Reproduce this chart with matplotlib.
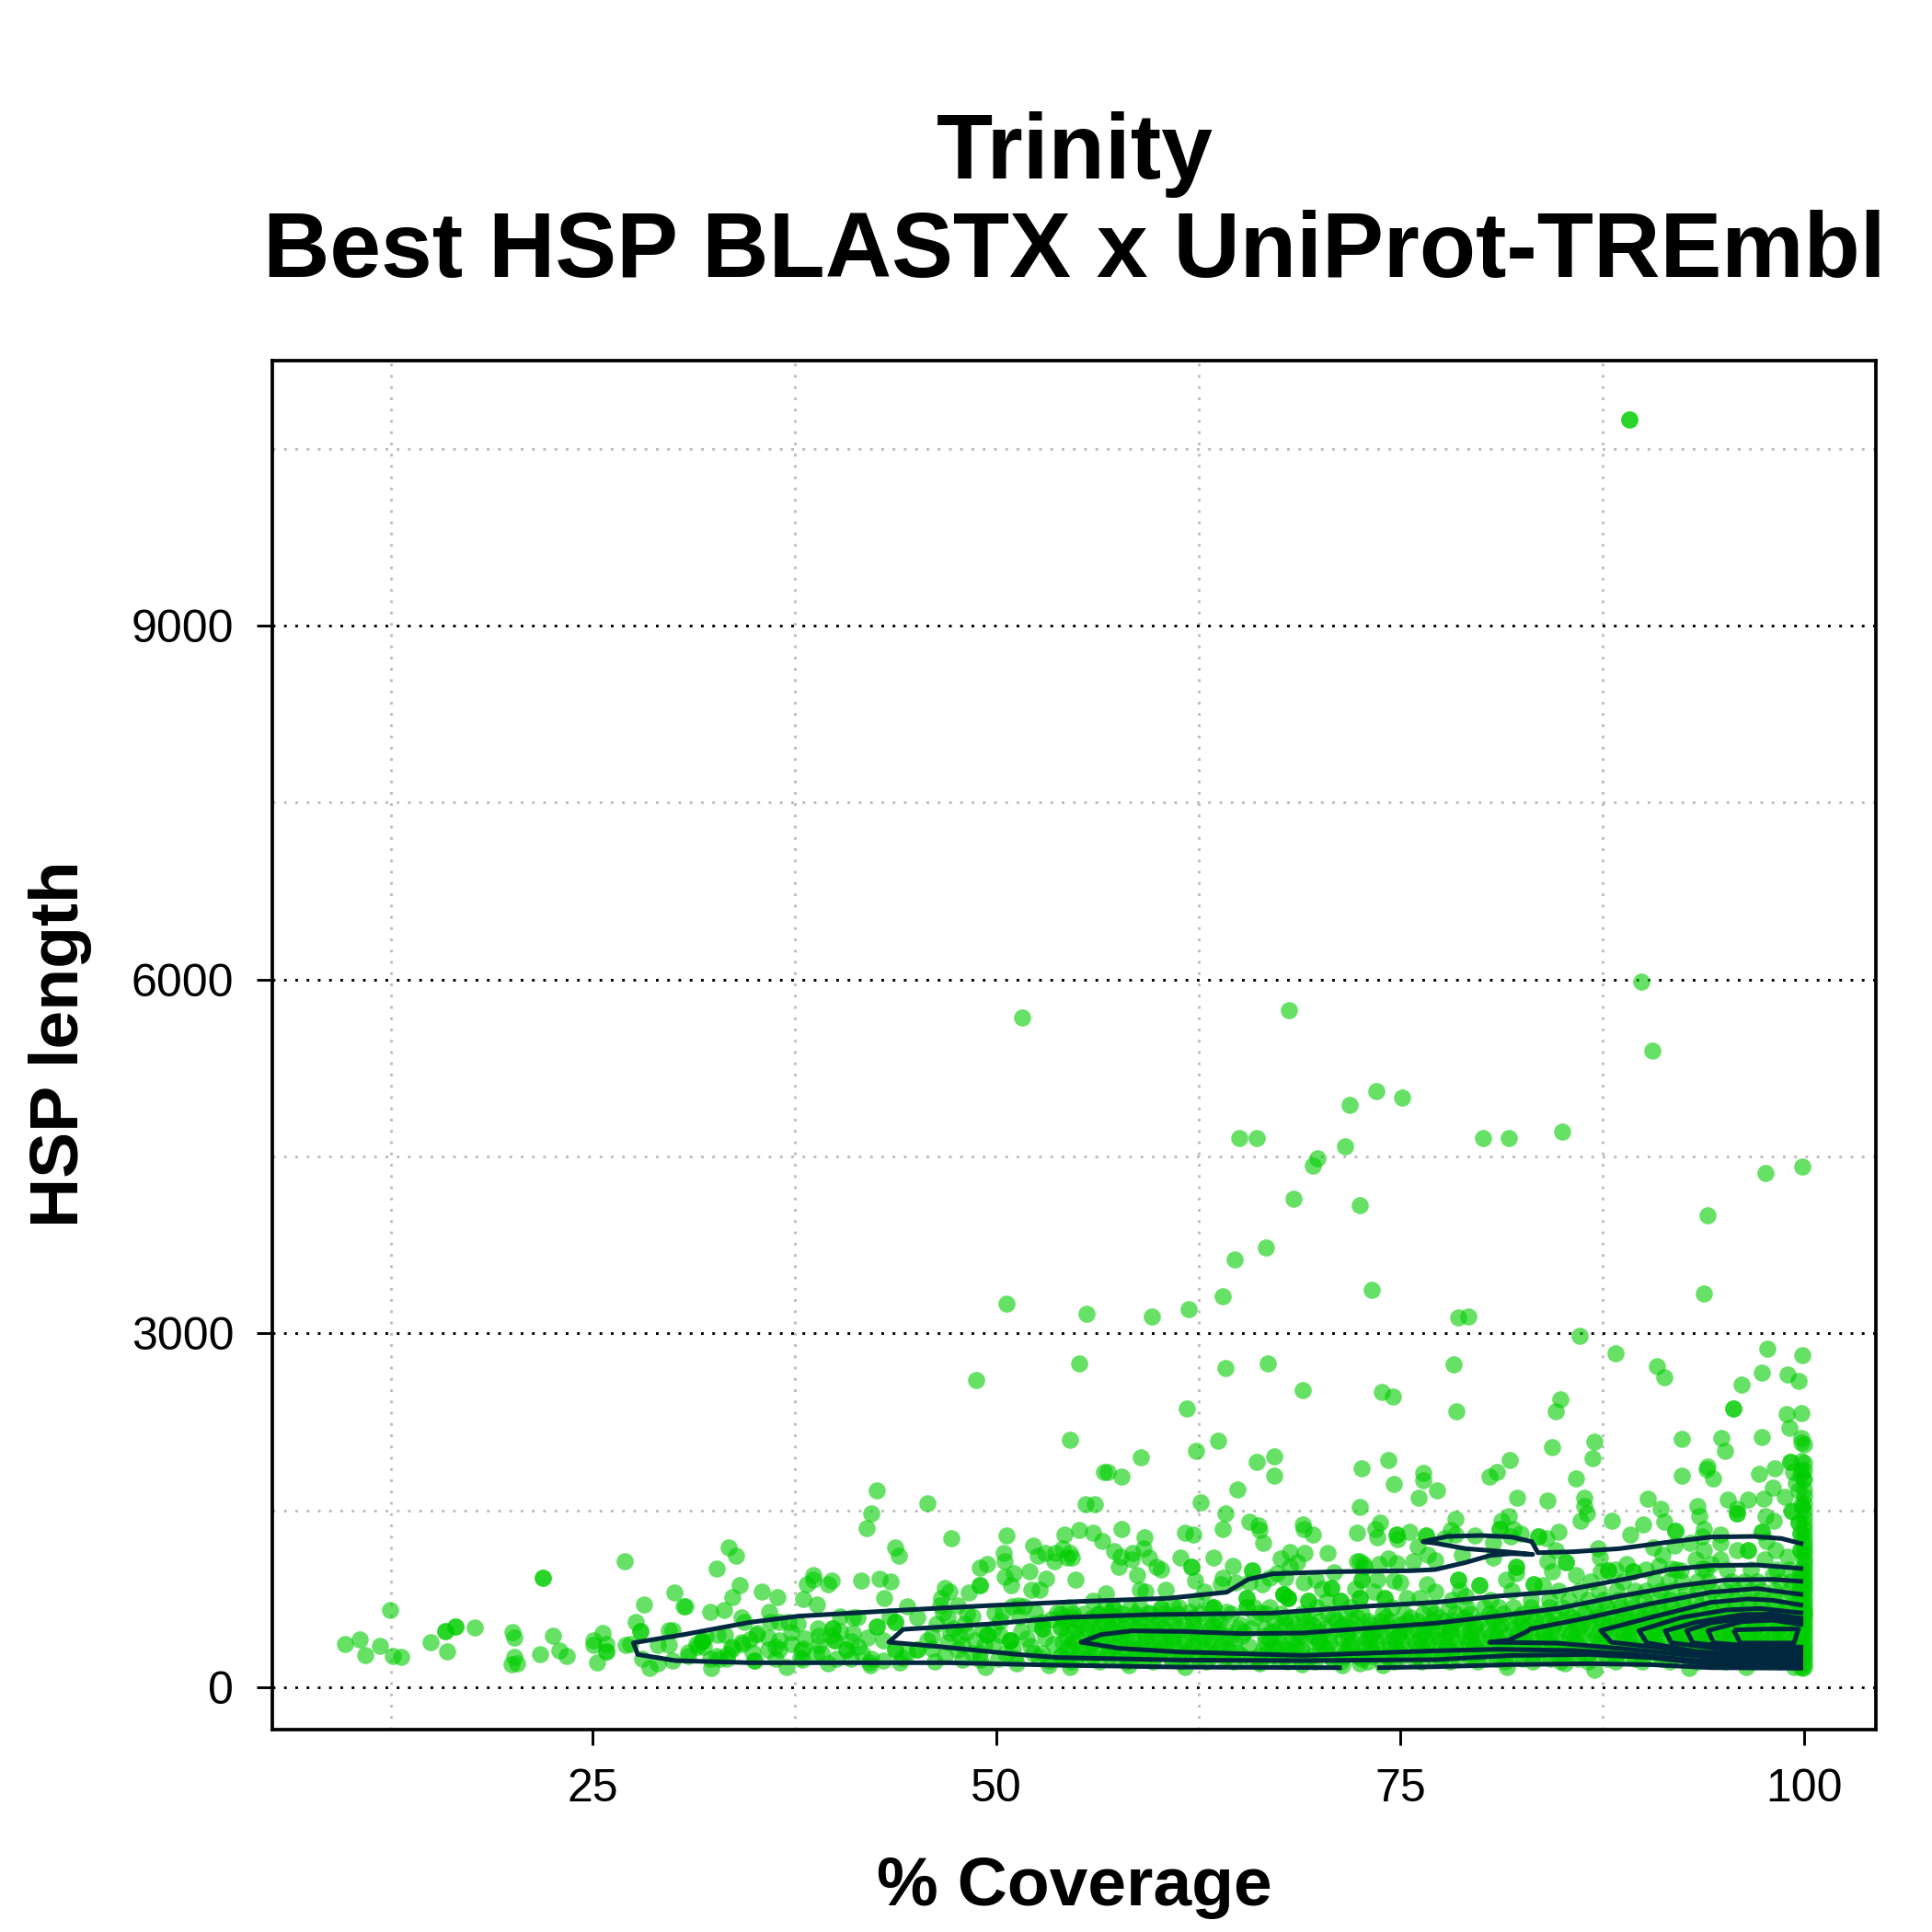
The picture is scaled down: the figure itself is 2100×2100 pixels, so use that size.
import matplotlib
matplotlib.use("Agg")
import matplotlib.pyplot as plt

plt.rcParams['font.family'] = ['Liberation Sans', 'DejaVu Sans']

# -- values: (% coverage, HSP length)
outliers_top = [(89.2, 10751), (89.9, 5983), (90.6, 5397), (51.6, 5680), (68.1, 5742), (71.85, 4935),
    (73.5, 5051), (75.1, 4998), (85.0, 4715), (80.1, 4653), (81.7, 4653), (65.05, 4653), (66.1, 4653),
    (71.6, 4590), (69.9, 4485), (69.6, 4422), (68.4, 4139), (72.5, 4087), (99.9, 4412), (97.6, 4359),
    (94.0, 4003), (66.7, 3730), (64.75, 3626), (93.8, 3338), (89.2, 10751)]

upper_right = [(78.6, 3133), (79.2, 3141), (86.1, 2977), (88.3, 2829), (90.9, 2725), (91.35, 2631), (97.7, 2873),
    (99.9, 2813), (97.4, 2667), (99, 2652), (99.65, 2597), (96.1, 2569), (95.6, 2366), (95.6, 2366), (98.9, 2319),
    (99.85, 2322), (99.1, 2202), (97.35, 2119), (99.8, 2111), (99.8, 2072), (92.4, 2103), (94.9, 2116), (95.1, 2007),
    (99.85, 1921), (99.15, 1908), (99.15, 1908), (94.0, 1872), (93.95, 1846), (94.35, 1773), (97.2, 1809), (98.2, 1859),
    (99.3, 1825), (99.85, 1838), (99.75, 1799), (99.95, 1773), (99.5, 1734), (99.65, 1669), (92.4, 1796), (98.05, 1695),
    (98.8, 1617), (97.5, 1596), (96.5, 1591), (95.25, 1591), (93.4, 1539), (90.3, 1601), (91.1, 1513), (95.85, 1513),
    (99.85, 1552), (99.9, 1526), (99.2, 1500), (73.85, 2501), (74.55, 2465), (78.3, 2740), (78.45, 2342), (84.9, 2439),
    (84.65, 2342), (87.0, 2085), (86.9, 1945), (84.4, 2033), (74.25, 1926), (74.6, 1721), (76.45, 1817), (76.4, 1752),
    (77.25, 1666), (76.15, 1604), (81.8, 1929), (81.0, 1822), (80.55, 1783), (85.85, 1768), (82.25, 1604), (84.1, 1586),
    (86.4, 1604), (86.4, 1539)]

upper_mid = [(50.6, 3255), (55.6, 3164), (59.65, 3141), (61.9, 3203), (64.0, 3315), (55.15, 2748), (48.75, 2605),
    (64.15, 2709), (66.8, 2748), (68.95, 2519), (61.8, 2361), (54.55, 2095), (56.65, 1825), (56.9, 1825), (57.75, 1783),
    (58.95, 1947), (62.35, 2002), (63.7, 2093), (66.1, 1913), (67.2, 1960), (67.2, 1794), (64.9, 1679), (62.65, 1570),
    (72.6, 1859), (55.5, 1552), (56.1, 1552), (64.2, 1474), (72.5, 1526), (73.25, 3372)]

far_left = [(9.66, 369), (10.59, 408), (10.95, 270), (11.86, 353), (12.49, 652), (12.66, 262), (13.13, 260), (15.0, 382),
    (15.98, 307), (15.89, 478), (15.89, 478), (16.5, 512), (16.5, 512), (17.71, 504), (20.06, 468), (20.16, 421),
    (20.18, 260), (19.99, 192), (20.31, 205), (21.77, 281), (21.94, 928), (21.94, 928), (22.53, 434), (22.97, 312),
    (23.4, 265), (25.06, 395), (25.06, 356), (25.6, 463), (25.87, 369), (25.87, 304), (25.87, 304), (25.28, 208),
    (26.99, 1071), (27.05, 361), (27.34, 364), (28.2, 699), (27.67, 551), (27.94, 473), (27.94, 473), (29.71, 486),
    (29.98, 486), (29.03, 356), (29.71, 356), (28.08, 239), (28.54, 161), (29.03, 200), (29.98, 226), (30.06, 803)]

left_band = [(33.4, 1188), (33.9, 1113), (32.67, 1009), (34.1, 866), (35.46, 811), (33.64, 767), (36.43, 767), (30.74, 689),
    (32.31, 637), (33.13, 655), (34.21, 593), (34.42, 556), (35.94, 642), (38.03, 749), (38.92, 699), (38.25, 873),
    (38.69, 954), (38.69, 910), (39.58, 876), (39.81, 902), (41.65, 905), (42.77, 920), (43.43, 897), (43.06, 759),
    (43.76, 1185), (43.95, 1113), (41.94, 1349), (42.28, 1471), (42.58, 1669), (45.71, 1557), (47.23, 1266), (50.63, 1284),
    (50.48, 1136), (50.52, 1071), (52.26, 1201), (48.98, 1014), (49.45, 1045), (50.5, 938), (51.1, 967), (50.93, 863),
    (52.07, 985), (53.06, 920), (52.17, 824), (52.68, 824), (52.58, 1118), (53.02, 1136), (53.59, 1066), (53.63, 1136),
    (54.1, 1175), (54.2, 1292), (54.4, 1097), (49.0, 863), (49.0, 863), (48.3, 803), (46.83, 842), (47.08, 811), (46.57, 759),
    (47.61, 694), (46.51, 694), (46.7, 629), (46.98, 590), (44.48, 686), (48.5, 603), (48.2, 620), (50.4, 642), (50.97, 686),
    (51.35, 694), (51.73, 686), (53.78, 634), (54.1, 590), (52.83, 556), (52.87, 499), (52.87, 499), (54.0, 512), (45.09, 590),
    (43.76, 551), (43.76, 551), (43.38, 603), (42.62, 512), (42.62, 512), (40.34, 603), (41.1, 590), (41.4, 590), (37.68, 538),
    (37.11, 551), (36.54, 551), (35.97, 551), (35.2, 460), (33.22, 447), (32.75, 447), (38.97, 499), (39.01, 434), (38.16, 416),
    (39.87, 499), (39.87, 499), (39.77, 434), (40.34, 473), (41.1, 460), (31.8, 390), (31.8, 390), (31.42, 369), (33.6, 343),
    (34.27, 369), (36.54, 395), (36.54, 317), (36.35, 343), (37.3, 369), (38.06, 330), (38.82, 291), (39.2, 291), (39.96, 395),
    (39.96, 395), (40.72, 317), (40.72, 317), (41.48, 343), (41.67, 291), (42.24, 239), (42.15, 213), (43.0, 226), (43.76, 317),
    (43.76, 317), (44.5, 291), (45.09, 317), (45.09, 317), (46.04, 330), (46.8, 265), (48.5, 291), (48.98, 291), (49.26, 356),
    (47.17, 460), (47.74, 434), (49.17, 486), (49.45, 447), (49.45, 447), (49.83, 499), (50.21, 447), (50.88, 395), (50.88, 395),
    (50.88, 395), (51.54, 473), (50.59, 291), (51.16, 252), (52.3, 291), (52.87, 291), (53.54, 369), (54.0, 265), (53.25, 226),
    (30.93, 265), (32.37, 161), (32.84, 239), (33.32, 239), (35.03, 226), (37.02, 174), (36.35, 239), (37.87, 252), (39.58, 200),
    (42.2, 187), (49.32, 174), (51.25, 200), (53.25, 187), (30.66, 689), (32.03, 429), (31.75, 395), (31.48, 343), (31.89, 343),
    (33.66, 330), (34.2, 382), (33.39, 278), (34.75, 408), (35.16, 447), (35.02, 226), (32.3, 239), (32.7, 265), (30.94, 300),
    (44.2, 250), (46.2, 220), (47.6, 320), (35.9, 320), (37.9, 310), (41.0, 240), (45.7, 400), (47.9, 230), (52.1, 350), (53.0, 420),
    (46.3, 540), (47.3, 500), (48.1, 470), (48.7, 400), (49.8, 370), (51.0, 330), (51.9, 410), (52.6, 260), (50.2, 560), (51.4, 600),
    (52.4, 640), (53.4, 580), (47.0, 385), (47.9, 360), (49.0, 230), (50.1, 240), (37.3, 470), (38.0, 235), (39.0, 360), (40.1, 240),
    (41.0, 390), (42.0, 420), (43.0, 400), (34.9, 300), (35.9, 420), (44.0, 210), (46.0, 440), (48.0, 540), (49.9, 630), (52.4, 540)]

mid_upper = [(63.98, 1344), (65.68, 1401),
    (66.25, 1375), (66.29, 1331), (66.5, 1227), (68.97, 1378), (69.04, 1344), (69.58, 1292), (72.33, 1313), (73.75, 1396),
    (73.47, 1344), (73.6, 1271), (74.79, 1292), (74.79, 1292), (74.85, 1253), (75.55, 1318), (76.6, 1287), (76.6, 1287),
    (76.07, 1196), (76.7, 1123), (77.17, 1076), (75.8, 1066), (74.28, 1092), (74.79, 1053), (72.52, 1071), (72.33, 1066),
    (72.71, 1045), (73.66, 1045), (55.11, 1336), (56.0, 1310), (56.53, 1240), (57.75, 1344), (59.19, 1271), (59.1, 1180),
    (61.66, 1310), (62.17, 1292), (57.29, 1157), (58.41, 1136), (59.46, 1097), (58.38, 1084), (57.71, 1110), (57.58, 1024),
    (59.9, 1019), (60.18, 998), (61.37, 1097), (62.08, 1019), (62.08, 1019), (63.44, 1097), (64.64, 1032), (65.82, 988),
    (65.82, 988), (63.98, 928), (63.88, 876), (64.83, 889), (62.31, 902), (62.84, 811), (62.36, 733), (58.72, 949), (58.9, 824),
    (59.23, 811), (60.5, 824), (56.76, 798), (54.92, 915), (54.67, 1097), (54.58, 1136), (56.0, 733), (67.58, 1092), (68.19, 1149),
    (68.19, 1019), (69.1, 1136), (68.63, 1058), (70.49, 1141), (70.87, 972), (67.39, 967), (66.92, 928), (66.44, 876), (65.68, 889),
    (67.87, 928), (69.77, 915), (69.0, 889), (70.14, 837), (70.71, 842), (70.71, 842), (67.77, 785), (67.77, 785), (67.77, 785),
    (68.06, 759), (68.06, 759), (68.06, 759), (69.29, 733), (69.29, 733), (70.43, 733), (72.23, 837), (72.61, 915), (72.61, 915),
    (72.8, 1019), (74.99, 889), (74.6, 902), (76.66, 876), (73.56, 915), (74.04, 759), (74.04, 759), (73.37, 811), (71.28, 733),
    (71.28, 733), (72.52, 759), (72.52, 759), (75.37, 759), (76.22, 759), (77.17, 811), (65.49, 759), (65.49, 759), (65.49, 681),
    (65.49, 681), (63.41, 681), (63.41, 681), (65.97, 681), (66.35, 629), (64.26, 642), (60.18, 668), (60.18, 668), (60.94, 686),
    (58.28, 668), (57.24, 668), (57.24, 668), (61.98, 642), (59.42, 629), (56.29, 616), (54.58, 174), (61.7, 174), (72.5, 200),
    (71.4, 187), (73.9, 190), (58.2, 190), (66.3, 205), (68.9, 195)]

right_upper = [(86.56, 1474), (86.18, 1414), (91.36, 1404), (90.03, 1378), (89.23, 1297),
    (88.11, 1409), (93.52, 1448), (92.0, 1326), (92.0, 1326), (93.77, 1344), (93.67, 1279), (95.86, 1474), (95.86, 1474),
    (99.27, 1487), (97.6, 1448), (98.13, 1409), (99.65, 1396), (99.65, 1396), (97.38, 1318), (97.38, 1318),
    (99.75, 1305), (99.75, 1305), (97.66, 1240), (94.81, 1292), (94.81, 1227), (81.72, 1448), (81.24, 1409),
    (81.15, 1344), (81.15, 1344), (81.81, 1279), (82.47, 1305), (83.52, 1279), (83.52, 1279), (84.03, 1266), (84.81, 1318),
    (82.0, 1344), (78.39, 1430), (78.11, 1331), (78.39, 1292), (79.63, 1287), (80.77, 1227), (77.73, 1266), (87.22, 1175),
    (87.35, 1097), (84.62, 1162), (84.09, 1071), (85.23, 1058), (85.23, 1058), (85.89, 954), (84.37, 980), (82.19, 1019),
    (82.19, 1019), (81.53, 915), (82.19, 967), (83.23, 876), (83.23, 876), (83.8, 863), (79.91, 863), (79.91, 863), (78.58, 915),
    (78.58, 915), (78.83, 1123), (80.77, 1097), (79.06, 772), (87.88, 993), (87.88, 993), (89.02, 1045), (89.4, 980), (89.4, 980),
    (87.41, 980), (90.64, 1188), (91.21, 1123), (91.97, 1201), (92.92, 1227), (93.77, 1162), (93.3, 1084), (94.24, 1045), (91.02, 1032),
    (91.78, 1006), (92.35, 993), (93.67, 1006), (94.81, 1084), (95.86, 1162), (96.52, 1162), (96.52, 1162), (97.57, 1084), (98.23, 1162),
    (98.99, 1110), (99.75, 1162), (99.75, 1162), (98.04, 954)]

# -- dense part under the contours: one HSP length per row, coverages across it
band_lengths = [1000, 900, 820, 740, 680, 620, 560, 500, 440, 380, 320, 265, 215, 590, 530, 470, 410, 350, 295, 240]
band_coverages = [
    [88.3, 90.2, 92.1, 93.9, 95.2, 96.7, 98.3, 99.1],
    [86.8, 88.8, 90.8, 91.6, 92.4, 93.4, 94.1, 95.5, 96.3, 97.1, 98.5, 99.2],
    [78.7, 81.9, 84.8, 86.1, 87.3, 88.4, 89.5, 90.2, 91.1, 91.8, 92.7, 93.4, 94.3, 95.1, 95.8, 96.7, 97.4, 98.2, 99.1, 99.7],
    [78.2, 80.6, 83.1, 84.2, 85.4, 86.6, 87.6, 88.5, 89.3, 90.1, 91, 91.7, 92.5, 93.3, 94.1, 94.9, 95.7, 96.5, 97.3, 98.1, 98.9, 99.6],
    [54.5, 56.7, 58.9, 61.3, 63.2, 66.9, 69.8, 71.9, 74.5, 76.8, 78, 79.1, 80.2, 81.1, 82, 83.1, 84.2, 85, 86.1, 87, 87.8, 88.6, 89.4,
     90.3, 91, 91.8, 92.6, 93.5, 94.2, 95, 95.8, 96.6, 97.4, 98.2, 99, 99.8],
    [54, 54.7, 55.4, 56.3, 57, 57.8, 58.6, 59.5, 60.3, 61.2, 62.6, 64.5, 66.7, 67.6, 68.9, 70.5, 71.6, 72.6, 73.9, 75.2, 76.4, 77.1, 78.4,
     79.3, 80.5, 81.4, 82.6, 83.4, 84.5, 85.3, 86.4, 87.2, 88, 88.9, 89.7, 90.5, 91.3, 92, 92.9, 93.7, 94.5, 95.4, 96.2, 97, 97.8, 98.6, 99.3, 100],
    [54.2, 55, 55.8, 56.6, 57.2, 58, 58.9, 60, 61, 62.2, 63, 63.8, 67.2, 68.3, 69.3, 70, 71, 72, 73, 73.8, 74.4, 75.4, 76.1, 77, 77.7, 78.3,
     79.1, 79.9, 80.8, 81.7, 82.5, 83.3, 84.2, 85.1, 85.9, 86.7, 87.5, 88.3, 89.1, 89.8, 90.6, 91.4, 92.2, 93, 93.7, 94.5, 95.2, 96, 96.8, 97.5, 98.3, 99, 99.7],
    [54, 54.9, 55.6, 56.4, 57.1, 57.9, 58.8, 59.6, 60.3, 61.3, 62.3, 63.2, 64.1, 65, 65.8, 66.6, 67.5, 68.4, 69.3, 70.4, 71.2, 72, 72.9, 73.7,
     74.5, 75.3, 76, 76.9, 77.5, 78.1, 78.9, 79.6, 80.4, 81.1, 82, 82.7, 83.5, 84.4, 85.2, 86, 86.8, 87.7, 88.5, 89.2, 90, 90.8, 91.5, 92.3, 93.1,
     93.9, 94.6, 95.4, 96.1, 96.9, 97.7, 98.4, 99.2, 99.9],
    [54.3, 55.5, 56.2, 57, 57.7, 58.4, 59.2, 60, 60.8, 61.6, 62.5, 63.3, 64.3, 65.2, 66.6, 67.4, 68.8, 69.6, 70.6, 71.7, 72.5, 73.2, 74, 74.9, 75.7,
     76.6, 77.3, 78.2, 79, 79.8, 80.6, 81.5, 82.3, 83.1, 83.9, 84.7, 85.5, 86.3, 87.1, 88, 88.8, 89.5, 90.3, 91.1, 91.9, 92.6, 93.4, 94.2, 95, 95.7, 96.5,
     97.3, 98, 98.8, 99.5],
    [54.1, 54.8, 56, 56.8, 57.6, 58.4, 59.3, 60.2, 60.9, 61.7, 62.5, 63.4, 64.7, 66.6, 67.5, 68.2, 69.2, 70, 70.6, 72, 72.8, 73.5, 74.3, 75.1, 75.9, 76.7,
     77.4, 78.4, 79.2, 80, 80.8, 81.7, 82.4, 83.2, 84, 84.9, 85.7, 86.5, 87.3, 88.1, 88.9, 89.7, 90.4, 91.2, 92, 92.8, 93.5, 94.3, 95.1, 95.9, 96.6, 97.4, 98.2, 99, 99.7],
    [54.4, 55.2, 56.1, 57, 57.9, 58.7, 59.5, 60.2, 61.1, 61.9, 62.8, 63.7, 64.3, 66.5, 67.3, 68, 68.9, 70.4, 71.2, 72, 72.8, 73.6, 74.4, 75.3, 76.1, 77, 77.8,
     78.7, 79.5, 80.3, 81.2, 82, 82.9, 83.7, 84.6, 85.4, 86.2, 87, 87.9, 88.7, 89.5, 90.3, 91, 91.8, 92.7, 93.5, 94.3, 95, 95.8, 96.6, 97.5, 98.3, 99, 99.8],
    [54, 55, 56, 57, 58, 58.9, 59.8, 60.7, 61.5, 62.4, 63.3, 64.2, 65.2, 66.2, 67, 67.9, 68.7, 69.6, 70.6, 71.5, 72.4, 73.3, 74.2, 75.1, 76, 77, 77.6, 78.5, 79.4,
     80.2, 81.1, 82.1, 83, 83.9, 84.8, 85.6, 86.5, 87.4, 88.3, 89.2, 90.1, 91, 91.9, 92.8, 93.7, 94.6, 95.5, 96.4, 97.3, 98.2, 99.1, 99.9],
    [54.6, 56.4, 58.1, 59.7, 61.4, 63, 64.7, 66.3, 68, 69.7, 71.3, 73, 74.6, 76.3, 78.1, 79.8, 81.5, 83.2, 84.9, 86.6, 88.3, 90, 91.7, 93.4, 95.1, 96.8, 98.5, 99.8],
    [54.6, 55.9, 57.4, 58.9, 60.7, 62.1, 63.6, 66, 67.9, 69, 70.9, 72.3, 74.1, 75.6, 77.4, 79, 80.7, 82.3, 83.9, 85.6, 87.2, 88.7, 90.1, 91.5, 92.9, 94.4, 95.9, 97.4, 98.9],
    [55.2, 56.9, 58.3, 59.8, 61.6, 63.4, 65.1, 67.9, 69.6, 71.4, 73.2, 75, 76.6, 78.2, 79.6, 81.2, 82.9, 84.5, 86.2, 87.9, 89.4, 90.9, 92.5, 94, 95.6, 97.1, 98.6, 99.5],
    [54.7, 56.1, 57.5, 59.2, 60.6, 62, 63.7, 65.3, 67, 68.7, 70, 71.7, 73.4, 75, 76.4, 78, 79.3, 80.8, 82.3, 83.9, 85.6, 87.3, 88.9, 90.6, 92, 93.6, 95, 96.6, 98.2, 99.6],
    [55, 56.5, 58, 59.6, 61, 62.8, 64.4, 66.9, 68.4, 69.9, 71.4, 73, 74.6, 76.2, 77.7, 79.4, 81, 82.7, 84.2, 85.8, 87.5, 89.1, 90.7, 92.3, 93.8, 95.4, 97, 98.5, 99.8],
    [54.5, 55.8, 57.3, 59, 60.5, 62.2, 63.9, 65.6, 67.2, 68.5, 70.2, 71.8, 73.1, 74.7, 76.3, 77.9, 79.6, 81.3, 82.8, 84.4, 86, 87.6, 89.3, 90.9, 92.4, 94, 95.6, 97.2, 98.7],
    [55.3, 56.9, 58.6, 60, 61.6, 63.2, 64.9, 66.8, 68.3, 70, 71.6, 73.3, 74.9, 76.5, 78.2, 79.9, 81.6, 83.3, 85, 86.7, 88.4, 90.1, 91.8, 93.5, 95.2, 96.9, 98.6],
    [54.2, 55.7, 57.5, 59.1, 60.8, 62.5, 64.1, 65.8, 67.5, 69.2, 70.8, 72.6, 74.3, 75.9, 77.5, 79.3, 81, 82.6, 84.3, 86, 87.8, 89.5, 91.2, 92.9, 94.6, 96.3, 98, 99.5],
]
bottom_strays = [(81.6, 170), (87.0, 150), (85.2, 205), (92.9, 160), (96.4, 170), (99.4, 175), (99.9, 160)]

# -- the column of transcripts with full coverage
full_cover_lengths = [170, 205, 240, 275, 310, 340, 375, 410, 445, 480, 515, 550, 585, 620, 655, 690, 725, 760, 800, 835, 870,
    905, 945, 985, 1020, 1060, 1095, 1135, 1170, 1210, 1250, 1295, 1340, 1390, 1445, 1500, 1560, 1620, 1680, 1760, 1840, 1900, 2060]

# -- density contours
contour_outer = [(71.38, 166), (61.41, 171), (53.82, 187), (47.0, 208), (34.75, 208), (30.12, 226), (27.8, 278), (27.53, 377),
    (30.66, 447), (34.75, 551), (37.75, 603), (44.3, 655), (49.74, 694), (55.2, 728), (60.6, 754), (64.26, 806), (65.59, 915),
    (67.1, 962), (70.9, 980), (75.65, 988), (77.16, 998), (79.06, 1058), (80.58, 1118), (81.9, 1133), (83.2, 1126), (81.53, 1149),
    (79.06, 1175), (77.16, 1222), (76.41, 1235), (77.92, 1279), (80.0, 1287), (81.9, 1274), (83.14, 1235), (83.52, 1141), (85.7, 1149),
    (88.55, 1175), (91.4, 1227), (94.24, 1274), (96.9, 1279), (98.6, 1261), (99.94, 1214)]
contour_outer_tail = [(73.56, 166), (77.16, 174), (81.9, 192), (86.65, 200), (90.45, 192), (94.24, 166), (99.94, 161)]
contour_2 = [(99.94, 172), (94.24, 195), (90.45, 252), (86.65, 278), (81.9, 270), (77.16, 234), (69, 226), (61.41, 231), (53.82, 252),
    (51.35, 278), (46.6, 343), (43.34, 382), (44.23, 491), (49.45, 535), (54.4, 593), (59.51, 616), (67.1, 629), (72.8, 686), (77.16, 720),
    (80.96, 772), (84.75, 811), (89.3, 928), (91.6, 998), (94.24, 1032), (97.1, 1037), (99.94, 1006)]
contour_3 = [(99.94, 186), (97.09, 200), (93.3, 226), (89.5, 278), (85.7, 312), (80.96, 322), (77.16, 309), (69, 270), (61.41, 299), (57.62, 330),
    (55.24, 382), (56.48, 447), (58.38, 478), (61.41, 473), (65.21, 455), (69, 460), (72.8, 499), (77.16, 543), (80.96, 603), (84.75, 668),
    (88.55, 772), (92.35, 863), (95.19, 910), (98.04, 915), (99.94, 897)]
contour_4 = [(99.94, 204), (96.14, 231), (92.35, 278), (88.55, 330), (84.75, 374), (80.54, 382), (81.72, 400), (82.85, 473), (83.04, 494),
    (86.65, 590), (90.45, 707), (94.24, 806), (97.09, 837), (99.94, 785)]
contour_5 = [(99.94, 226), (95.19, 265), (91.4, 330), (88.07, 382), (87.41, 481), (90.45, 590), (94.24, 720), (96.52, 749), (98.04, 738), (99.94, 694)]
contour_6 = [(99.94, 252), (96.14, 278), (93.3, 304), (90.26, 377), (89.78, 481), (92.35, 590), (95.19, 655), (97.28, 668), (99.94, 629)]
contour_7 = [(99.94, 280), (96.14, 304), (91.78, 377), (91.4, 478), (93.3, 551), (96.14, 616), (98.04, 621), (99.94, 582)]
contour_8 = [(99.94, 308), (96.14, 330), (93.1, 377), (92.73, 481), (94.24, 546), (96.52, 590), (98.04, 595), (99.94, 556)]
contour_9 = [(99.94, 340), (96.14, 356), (94.4, 377), (94.05, 481), (96.14, 556), (98.04, 569), (99.94, 530)]
contour_10 = [(95.63, 486), (97.66, 494), (99.65, 494), (99.37, 375), (96.05, 375), (95.63, 486)]
contours = [contour_outer, contour_outer_tail, contour_2, contour_3, contour_4, contour_5, contour_6, contour_7, contour_8, contour_9, contour_10]

x_ticks = [25, 50, 75, 100]
y_ticks = [0, 3000, 6000, 9000]
x_minor_grid = [12.5, 37.5, 62.5, 87.5]
y_minor_grid = [1500, 4500, 7500, 10500]

points = outliers_top + upper_right + upper_mid + far_left + left_band + mid_upper + right_upper + bottom_strays
for length, covs in zip(band_lengths, band_coverages):
    points += [(c, length) for c in covs]
points += [(100, length) for length in full_cover_lengths]
points += [(99.75, length) for length in full_cover_lengths[:24]]
coverage = [p[0] for p in points]
hsp_length = [p[1] for p in points]

fig = plt.figure(figsize=(7, 7), dpi=300)
ax = fig.add_axes([296 / 2100, 1 - 1880 / 2100, (2039 - 296) / 2100, (1880 - 392) / 2100])

dots = (0, (1, 3.2))
for v in x_minor_grid:
    ax.axvline(v, color='#bdbdbd', lw=0.7, ls=dots, zorder=1)
for v in y_minor_grid:
    ax.axhline(v, color='#bdbdbd', lw=0.7, ls=dots, zorder=1)
for v in y_ticks:
    ax.axhline(v, color='black', lw=0.7, ls=dots, zorder=1)

ax.scatter(coverage, hsp_length, s=20, c='#00CD00', alpha=0.6, linewidths=0, zorder=2)

for line in contours:
    ax.plot([p[0] for p in line], [p[1] for p in line], color='#02283f', lw=1.2,
            solid_joinstyle='round', solid_capstyle='butt', zorder=3)

ax.set_xlim(5.18, 104.44)
ax.set_ylim(-359, 11248)
ax.set_xticks(x_ticks)
ax.set_yticks(y_ticks)
ax.tick_params(axis='both', length=4, width=0.7, labelsize=12)
ax.tick_params(axis='x', pad=6)
ax.tick_params(axis='y', pad=6)
for spine in ax.spines.values():
    spine.set_linewidth(0.9)

fig.text(1168 / 2100, 1 - 194 / 2100, 'Trinity', ha='center', va='baseline', fontsize=24.05, fontweight='bold')
fig.text(1168 / 2100, 1 - 301 / 2100, 'Best HSP BLASTX x UniProt-TREmbl', ha='center', va='baseline', fontsize=24.05, fontweight='bold')
fig.text(1168 / 2100, 1 - 2071 / 2100, '% Coverage', ha='center', va='baseline', fontsize=18, fontweight='bold')
fig.text(66 / 2100, 1 - 1135 / 2100, 'HSP length', ha='center', va='center', rotation=90, fontsize=18, fontweight='bold')

fig.savefig('out.png', dpi=300)
